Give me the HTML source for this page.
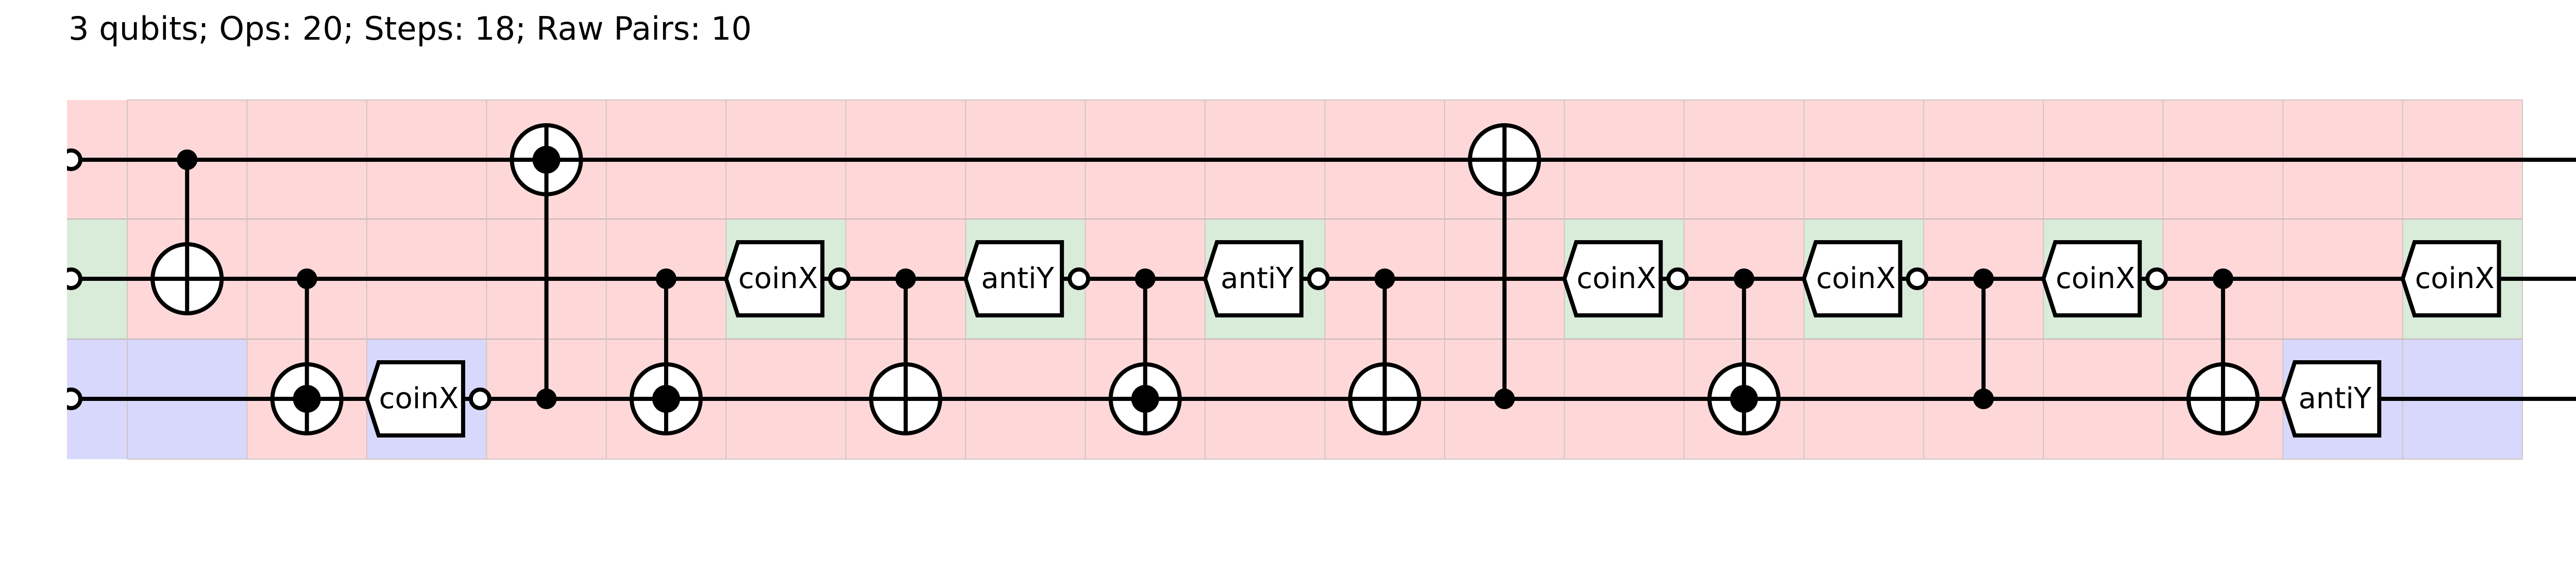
<!DOCTYPE html>
<html><head><meta charset="utf-8"><style>
html,body{margin:0;padding:0;background:#fff;}
svg{display:block;}
text{font-family:"DejaVu Sans","Liberation Sans",sans-serif;}
</style></head><body>
<svg width="5046" height="1110" viewBox="0 0 5046 1110" xmlns="http://www.w3.org/2000/svg">
<defs>
<clipPath id="clip"><rect x="130" y="0" width="4916" height="1110"/></clipPath>
<g id="tp"><circle r="67" fill="#fff" stroke="#000" stroke-width="8"/><line x1="-67" y1="0" x2="67" y2="0" stroke="#000" stroke-width="8"/><line x1="0" y1="-67" x2="0" y2="67" stroke="#000" stroke-width="8"/></g>
<g id="td"><use href="#tp"/><circle r="27" fill="#000"/></g>
</defs>
<text x="133" y="77" font-size="62" fill="#000" textLength="1326" lengthAdjust="spacingAndGlyphs">3 qubits; Ops: 20; Steps: 18; Raw Pairs: 10</text>

<!-- backgrounds -->
<rect x="130" y="194" width="4766" height="697" fill="#fed8d8"/>
<rect x="130" y="425" width="117" height="233" fill="#d9ebd9"/>
<rect x="130" y="658" width="117" height="233" fill="#d8d8fc"/>
<rect x="247" y="658" width="232.45" height="233" fill="#d8d8fc"/>
<rect x="711.9" y="658" width="232.45" height="233" fill="#d8d8fc"/>
<rect x="4431.1" y="658" width="464.9" height="233" fill="#d8d8fc"/>
<g fill="#d9ebd9">
<rect x="1409.25" y="425" width="232.45" height="233"/>
<rect x="1874.15" y="425" width="232.45" height="233"/>
<rect x="2339.05" y="425" width="232.45" height="233"/>
<rect x="3036.4" y="425" width="232.45" height="233"/>
<rect x="3501.3" y="425" width="232.45" height="233"/>
<rect x="3966.2" y="425" width="232.45" height="233"/>
<rect x="4663.55" y="425" width="232.45" height="233"/>
</g>
<!-- grid -->
<g stroke="#d2c4c4" stroke-width="2" fill="none">
<line x1="247" y1="194" x2="4896" y2="194"/>
<line x1="130" y1="425" x2="4896" y2="425" stroke="#c4b4b4"/>
<line x1="130" y1="658" x2="4896" y2="658" stroke="#c4b4b4"/>
<line x1="247" y1="891" x2="4896" y2="891"/>
<line x1="247" y1="194" x2="247" y2="891"/>
<line x1="479.45" y1="194" x2="479.45" y2="891"/>
<line x1="711.9" y1="194" x2="711.9" y2="891"/>
<line x1="944.35" y1="194" x2="944.35" y2="891"/>
<line x1="1176.8" y1="194" x2="1176.8" y2="891"/>
<line x1="1409.25" y1="194" x2="1409.25" y2="891"/>
<line x1="1641.7" y1="194" x2="1641.7" y2="891"/>
<line x1="1874.15" y1="194" x2="1874.15" y2="891"/>
<line x1="2106.6" y1="194" x2="2106.6" y2="891"/>
<line x1="2339.05" y1="194" x2="2339.05" y2="891"/>
<line x1="2571.5" y1="194" x2="2571.5" y2="891"/>
<line x1="2803.95" y1="194" x2="2803.95" y2="891"/>
<line x1="3036.4" y1="194" x2="3036.4" y2="891"/>
<line x1="3268.85" y1="194" x2="3268.85" y2="891"/>
<line x1="3501.3" y1="194" x2="3501.3" y2="891"/>
<line x1="3733.75" y1="194" x2="3733.75" y2="891"/>
<line x1="3966.2" y1="194" x2="3966.2" y2="891"/>
<line x1="4198.65" y1="194" x2="4198.65" y2="891"/>
<line x1="4431.1" y1="194" x2="4431.1" y2="891"/>
<line x1="4663.55" y1="194" x2="4663.55" y2="891"/>
<line x1="4896" y1="194" x2="4896" y2="891"/>
</g>

<!-- wires -->
<g stroke="#000" stroke-width="8">
<line x1="130" y1="310" x2="5012" y2="310"/>
<line x1="130" y1="541" x2="5012" y2="541"/>
<line x1="130" y1="774" x2="5012" y2="774"/>
</g>
<g clip-path="url(#clip)" fill="#fff" stroke="#000" stroke-width="8">
<circle cx="138" cy="310" r="18"/>
<circle cx="138" cy="541" r="18"/>
<circle cx="138" cy="774" r="18"/>
</g>

<!-- vertical connectors -->
<g stroke="#000" stroke-width="8">
<line x1="363.2" y1="310" x2="363.2" y2="541"/>
<line x1="595.7" y1="541" x2="595.7" y2="774"/>
<line x1="1060.6" y1="310" x2="1060.6" y2="774"/>
<line x1="1293" y1="541" x2="1293" y2="774"/>
<line x1="1757.9" y1="541" x2="1757.9" y2="774"/>
<line x1="2222.8" y1="541" x2="2222.8" y2="774"/>
<line x1="2687.7" y1="541" x2="2687.7" y2="774"/>
<line x1="2920.2" y1="310" x2="2920.2" y2="774"/>
<line x1="3385.1" y1="541" x2="3385.1" y2="774"/>
<line x1="3850" y1="541" x2="3850" y2="774"/>
<line x1="4314.9" y1="541" x2="4314.9" y2="774"/>
</g>
<!-- control dots -->
<g fill="#000">
<circle cx="363.2" cy="310" r="20"/>
<circle cx="595.7" cy="541" r="20"/>
<circle cx="1060.6" cy="774" r="20"/>
<circle cx="1293" cy="541" r="20"/>
<circle cx="1757.9" cy="541" r="20"/>
<circle cx="2222.8" cy="541" r="20"/>
<circle cx="2687.7" cy="541" r="20"/>
<circle cx="2920.2" cy="774" r="20"/>
<circle cx="3385.1" cy="541" r="20"/>
<circle cx="3850" cy="541" r="20"/>
<circle cx="3850" cy="774" r="20"/>
<circle cx="4314.9" cy="541" r="20"/>
</g>
<!-- targets -->
<use href="#tp" x="363.2" y="541"/>
<use href="#td" x="595.7" y="774"/>
<use href="#td" x="1060.6" y="310"/>
<use href="#td" x="1293" y="774"/>
<use href="#tp" x="1757.9" y="774"/>
<use href="#td" x="2222.8" y="774"/>
<use href="#tp" x="2687.7" y="774"/>
<use href="#tp" x="2920.2" y="310"/>
<use href="#td" x="3385.1" y="774"/>
<use href="#tp" x="4314.9" y="774"/>

<!-- gate boxes -->
<g stroke="#000" stroke-width="8">
<g transform="translate(711.9,774)"><polygon points="0,0 23,-71 187,-71 187,71 23,71" fill="#fff"/><circle cx="220" cy="0" r="18" fill="#fff"/></g>
<g transform="translate(1409.25,541)"><polygon points="0,0 23,-71 187,-71 187,71 23,71" fill="#fff"/><circle cx="220" cy="0" r="18" fill="#fff"/></g>
<g transform="translate(1874.15,541)"><polygon points="0,0 23,-71 187,-71 187,71 23,71" fill="#fff"/><circle cx="220" cy="0" r="18" fill="#fff"/></g>
<g transform="translate(2339.05,541)"><polygon points="0,0 23,-71 187,-71 187,71 23,71" fill="#fff"/><circle cx="220" cy="0" r="18" fill="#fff"/></g>
<g transform="translate(3036.4,541)"><polygon points="0,0 23,-71 187,-71 187,71 23,71" fill="#fff"/><circle cx="220" cy="0" r="18" fill="#fff"/></g>
<g transform="translate(3501.3,541)"><polygon points="0,0 23,-71 187,-71 187,71 23,71" fill="#fff"/><circle cx="220" cy="0" r="18" fill="#fff"/></g>
<g transform="translate(3966.2,541)"><polygon points="0,0 23,-71 187,-71 187,71 23,71" fill="#fff"/><circle cx="220" cy="0" r="18" fill="#fff"/></g>
<g transform="translate(4431.1,774)"><polygon points="0,0 23,-71 187,-71 187,71 23,71" fill="#fff"/></g>
<g transform="translate(4663.55,541)"><polygon points="0,0 23,-71 187,-71 187,71 23,71" fill="#fff"/></g>
</g>
<g font-size="56" text-anchor="middle" fill="#000">
<text x="812.9" y="792">coinX</text>
<text x="1510.25" y="559">coinX</text>
<text x="1975.15" y="559">antiY</text>
<text x="2440.05" y="559">antiY</text>
<text x="3137.4" y="559">coinX</text>
<text x="3602.3" y="559">coinX</text>
<text x="4067.2" y="559">coinX</text>
<text x="4532.1" y="792">antiY</text>
<text x="4764.55" y="559">coinX</text>
</g>
</svg>
</body></html>
